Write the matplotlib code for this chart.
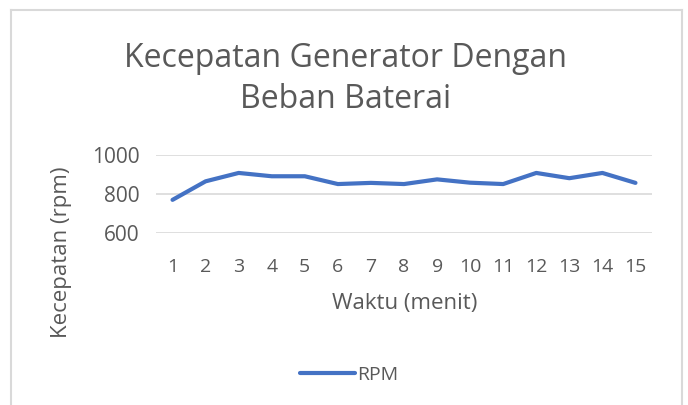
import matplotlib.pyplot as plt
from matplotlib.lines import Line2D

# data
waktu = [str(i) for i in range(1, 16)]
rpm = [770, 865, 908, 891, 891, 851, 857, 851, 875, 858, 851, 908, 881, 908, 857]
y_ticks = [600, 800, 1000]

plt.rcParams['font.family'] = ['Open Sans', 'DejaVu Sans']

W, H = 688, 405
fig = plt.figure(figsize=(W / 100, H / 100), dpi=100)

# plot area in pixels
left, right, top, bottom = 156, 652, 155, 233
ax = fig.add_axes([left / W, 1 - bottom / H, (right - left) / W, (bottom - top) / H])

x = list(range(len(waktu)))
line, = ax.plot(x, rpm, color='#4472C4', lw=3, solid_capstyle='round', label='RPM')
ax.set_xlim(-0.5, len(waktu) - 0.5)
ax.set_ylim(600, 1000)
ax.set_yticks(y_ticks)
ax.set_xticks(x)
ax.set_xticklabels(waktu)
ax.grid(axis='y', color='#D9D9D9', lw=1.2)
ax.set_axisbelow(True)
for s in ax.spines.values():
    s.set_visible(False)
ax.tick_params(length=0, labelcolor='#595959')
ax.tick_params(axis='y', labelsize=15, pad=12)
ax.tick_params(axis='x', labelsize=14, pad=18)

fig.text(346 / W, 1 - 79 / H, 'Kecepatan Generator Dengan\nBeban Baterai', ha='center', va='center',
         fontsize=23, color='#595959', linespacing=1.35)
fig.text(405 / W, 1 - 303 / H, 'Waktu (menit)', ha='center', va='center', fontsize=16, color='#595959')
fig.text(62 / W, 1 - 252 / H, 'Kecepatan (rpm)', ha='center', va='center', rotation=90,
         fontsize=16, color='#595959')

# legend
fig.legend(handles=[line], loc='center', bbox_to_anchor=(349 / W, 1 - 375 / H), frameon=False,
           fontsize=14, labelcolor='#595959', handlelength=2.8, handletextpad=0.1)

# chart border
bc = '#D9D9D9'
fig.add_artist(Line2D([11 / W, 11 / W], [0, 1 - 10 / H], color=bc, lw=1.5, transform=fig.transFigure))
fig.add_artist(Line2D([682 / W, 682 / W], [0, 1 - 10 / H], color=bc, lw=1.5, transform=fig.transFigure))
fig.add_artist(Line2D([11 / W, 682 / W], [1 - 10 / H, 1 - 10 / H], color=bc, lw=1.5, transform=fig.transFigure))

fig.savefig('out.png', dpi=100)
